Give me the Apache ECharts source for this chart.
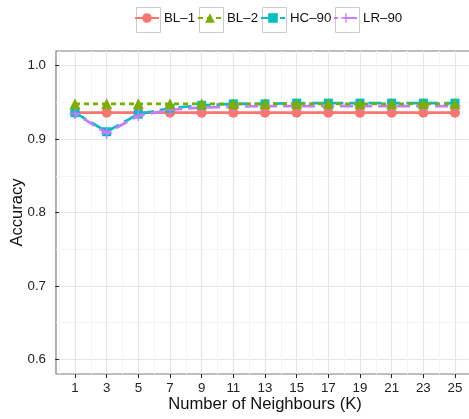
<!DOCTYPE html>
<html><head><meta charset="utf-8">
<script src="https://cdn.jsdelivr.net/npm/echarts@6/dist/echarts.min.js"></script>
<style>html,body{margin:0;padding:0;background:#fff}#c{width:469px;height:419px}</style>
</head><body><div id="c"></div>
<script>
const kValues = [1,3,5,7,9,11,13,15,17,19,21,23,25];
const seriesNames = ['BL–1','BL–2','HC–90','LR–90'];
const bl1 = [0.936,0.936,0.936,0.936,0.936,0.936,0.936,0.936,0.936,0.936,0.936,0.936,0.936];
const bl2 = [0.948,0.948,0.948,0.948,0.948,0.948,0.948,0.948,0.948,0.948,0.948,0.948,0.948];
const hc90 = [0.936,0.910,0.934,0.942,0.946,0.948,0.948,0.949,0.949,0.949,0.949,0.949,0.949];
const lr90 = [0.935,0.908,0.932,0.940,0.943,0.944,0.945,0.945,0.945,0.945,0.945,0.945,0.945];
const xTicks = [1,3,5,7,9,11,13,15,17,19,21,23,25];
const xMinorTicks = [0,2,4,6,8,10,12,14,16,18,20,22,24,26];
const yTicks = [0.6,0.7,0.8,0.9,1.0];
const yMinorTicks = [0.65,0.75,0.85,0.95];

const font = 'Liberation Sans, Arial, sans-serif';
const pair = arr => kValues.map((k,i)=>[k,arr[i]]);
const plusPath = 'path://M4.3,0H5.7V4.3H10V5.7H5.7V10H4.3V5.7H0V4.3H4.3Z';
const legendLefts = [134,197,260,333];

const chart = echarts.init(document.getElementById('c'), null, {renderer:'canvas'});
chart.setOption({
  animation:false,
  backgroundColor:'#fff',
  grid:{left:56, width:418, top:51, height:323, show:true, borderColor:'#7f7f7f', borderWidth:1.2, backgroundColor:'transparent', containLabel:false, outerBoundsMode:'none'},
  legend:seriesNames.map((n,i)=>({
    data:[n], left:legendLefts[i], top:11.5, padding:0, itemWidth:24, itemHeight:12, itemGap:0,
    textStyle:{fontFamily:font, fontSize:13.3, color:'#111'}
  })),
  graphic:legendLefts.map(x=>({type:'rect', left:x, top:5, shape:{width:24,height:25}, style:{fill:'none', stroke:'#cccccc', lineWidth:1}, z:-1})),
  xAxis:[{
    type:'value', min:-0.2, max:26.2,
    name:'Number of Neighbours (K)', nameLocation:'middle', nameGap:22, nameMoveOverlap:false,
    nameTextStyle:{fontFamily:font, fontSize:16.6, color:'#111'},
    axisLine:{show:false},
    axisTick:{show:true, customValues:xTicks, length:4, lineStyle:{color:'#222'}},
    axisLabel:{customValues:xTicks, fontFamily:font, fontSize:13.3, color:'#222', margin:8},
    splitLine:{show:true, lineStyle:{color:'#e6e6e6', width:1.2}}
  },{
    type:'value', min:-0.2, max:26.2, show:true, position:'bottom',
    axisLine:{show:false}, axisLabel:{show:false},
    axisTick:{show:false, customValues:xMinorTicks},
    splitLine:{show:true, lineStyle:{color:'#f4f4f4', width:1}}
  }],
  yAxis:[{
    type:'value', min:0.58, max:1.02,
    name:'Accuracy', nameLocation:'middle', nameGap:30, nameMoveOverlap:false,
    nameTextStyle:{fontFamily:font, fontSize:16.6, color:'#111'},
    axisLine:{show:false},
    axisTick:{show:true, customValues:yTicks, length:4, lineStyle:{color:'#222'}},
    axisLabel:{customValues:yTicks, fontFamily:font, fontSize:13.3, color:'#222', margin:10, formatter:v=>v.toFixed(1)},
    splitLine:{show:true, lineStyle:{color:'#e6e6e6', width:1.2}}
  },{
    type:'value', min:0.58, max:1.02, show:true, position:'left',
    axisLine:{show:false}, axisLabel:{show:false},
    axisTick:{show:false, customValues:yMinorTicks},
    splitLine:{show:true, lineStyle:{color:'#f4f4f4', width:1}}
  }],
  series:[
    {name:'BL–1', type:'line', data:pair(bl1), symbol:'circle', symbolSize:10,
     itemStyle:{color:'#F8766D'}, lineStyle:{color:'#F8766D', width:2.7, type:'solid'}, z:2},
    {name:'HC–90', type:'line', data:pair(hc90), symbol:'rect', symbolSize:9,
     itemStyle:{color:'#00BFC4'}, lineStyle:{color:'#00BFC4', width:2.7, type:[13,6]}, z:3},
    {name:'LR–90', type:'line', data:pair(lr90), symbol:plusPath, symbolSize:11,
     itemStyle:{color:'#C77CFF'}, lineStyle:{color:'#C77CFF', width:2.7, type:[13,6], dashOffset:9}, z:4},
    {name:'BL–2', type:'line', data:pair(bl2), symbol:'triangle', symbolSize:11,
     itemStyle:{color:'#7CAE00'}, lineStyle:{color:'#7CAE00', width:2.7, type:[5,4]}, z:5}
  ]
});
</script>
</body></html>
